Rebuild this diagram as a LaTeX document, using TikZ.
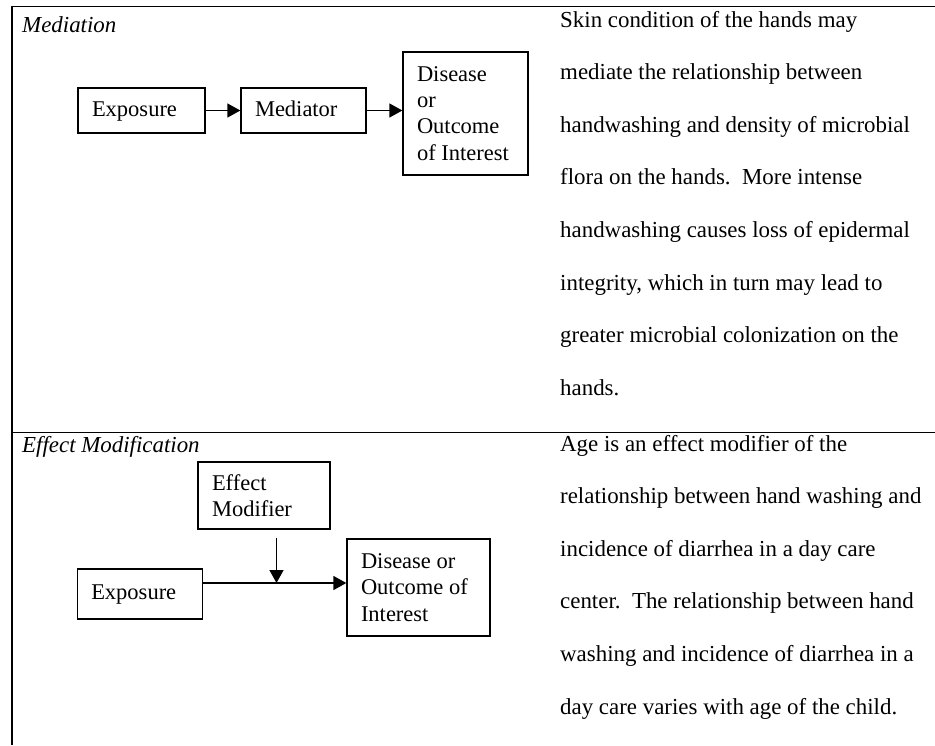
\documentclass[tikz,border=0pt]{standalone}
\usepackage{fontspec}
\setmainfont{Liberation Serif}
\usepackage{tikz}
\usetikzlibrary{calc,arrows.meta}
\tikzset{%
	box/.style={draw,line width=1.3pt,inner xsep=14pt,inner ysep=0pt,align=flush left,
		font=\fontsize{22.5}{26.3}\selectfont},
	one/.style={text height=16pt,text depth=5pt},
	arr/.style={line width=1.4pt,-{Triangle[length=13pt,width=14pt]}}
}

\begin{document}
\begin{tikzpicture}[x=1pt,y=-1pt,
		head/.style={anchor=west,inner sep=0pt,font=\fontsize{22.9}{26.3}\selectfont\itshape},
		para/.style={anchor=base west,inner sep=0pt,align=left,font=\fontsize{22.9}{52.6}\selectfont}]
	\useasboundingbox (0,0) rectangle (935,745);
	\draw [line width=1.3pt] (935,6.5) -- (12,6.5) -- (12,745);
	\draw [line width=1.3pt] (12,432.5) -- (935,432.5);
	% mediation
	\node [head] (mHead) at (22,25) {Mediation};
	\node [box, one, text width=99pt, minimum height=45pt] (mExp) at (141.5,110.5) {Exposure};
	\node [box, one, text width=97pt, minimum height=45pt] (mMed) at (303.5,110.5) {Mediator};
	\node [box, text width=97pt, minimum height=123pt] (mDis) at (465.5,113.5) {Disease\\or\\Outcome\\of Interest};
	\draw [arr] (mExp) -- (mMed);
	\draw [arr] (mMed.east) -- (mMed.east -| mDis.west);
	\node [para] (mText) at (560,395.2) {Skin condition of the hands may\\
		mediate the relationship between\\
		handwashing and density of microbial\\
		flora on the hands.\ \ More intense\\
		handwashing causes loss of epidermal\\
		integrity, which in turn may lead to\\
		greater microbial colonization on the\\
		hands.};
	% effect modification
	\node [head] (eHead) at (22,447) {Effect Modification};
	\node [box, text width=104pt, minimum height=67pt] (eMod) at (264,495.5) {Effect\\Modifier};
	\node [box, one, text width=97.5pt, minimum height=50pt] (eExp) at (140,594) {Exposure};
	\node [box, text width=115pt, minimum height=97pt] (eDis) at (418.5,587.5) {Disease or\\Outcome of\\Interest};
	\coordinate (eJoin) at (276.5,583);
	\draw [arr] (eExp.east |- eJoin) -- (eDis.west |- eJoin);
	\draw [arr] ($(eJoin |- eMod.south)+(0,8)$) -- (eJoin);
	\node [para] (eText) at (560,714) {Age is an effect modifier of the\\
		relationship between hand washing and\\
		incidence of diarrhea in a day care\\
		center.\ \ The relationship between hand\\
		washing and incidence of diarrhea in a\\
		day care varies with age of the child.};
\end{tikzpicture}
\end{document}
